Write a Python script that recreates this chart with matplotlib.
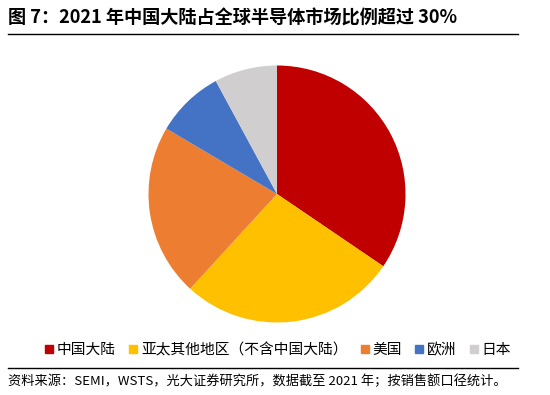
import matplotlib
matplotlib.use("Agg")
import matplotlib.pyplot as plt
from matplotlib.lines import Line2D

plt.rcParams['font.family'] = ['Noto Sans CJK SC', 'DejaVu Sans']

categories = ['中国大陆', '亚太其他地区（不含中国大陆）', '美国', '欧洲', '日本']
values = [34.5, 27.3, 21.7, 8.6, 7.9]
colors = ['#C00000', '#FFC000', '#ED7D31', '#4472C4', '#D0CECE']
title = '图 7：2021 年中国大陆占全球半导体市场比例超过 30%'
source = '资料来源：SEMI，WSTS，光大证券研究所，数据截至 2021 年；按销售额口径统计。'

W, H = 550, 395
fig = plt.figure(figsize=(W / 100, H / 100), dpi=100)

# Pie axes: center (277,194), radius 128 px
cx, cy, r = 277, 194, 128.5
ax = fig.add_axes([(cx - r) / W, (H - cy - r) / H, 2 * r / W, 2 * r / H])
wedges, _ = ax.pie(values, colors=colors, startangle=90, counterclock=False,
                   radius=1.0, wedgeprops=dict(linewidth=0))
ax.set_xlim(-1, 1)
ax.set_ylim(-1, 1)
ax.set_aspect('equal')
ax.axis('off')

# Title
fig.text(8 / W, 1 - 18 / H, title, fontsize=13.1, fontweight='bold',
         ha='left', va='center', color='#000000')
fig.add_artist(Line2D([8 / W, 518 / W], [1 - 34 / H, 1 - 34 / H],
                      color='black', linewidth=1.0))

# Legend
handles = [Line2D([], [], marker='s', linestyle='none', markersize=5.8,
                  markerfacecolor=c, markeredgecolor=c) for c in colors]
fig.legend(handles, categories, loc='center', bbox_to_anchor=(278 / W, 1 - 350 / H),
           ncol=5, frameon=False, prop=dict(size=10.6),
           handlelength=0.55, handletextpad=0.27, columnspacing=0.88,
           borderaxespad=0, borderpad=0)

fig.add_artist(Line2D([8 / W, 518 / W], [1 - 368 / H, 1 - 368 / H],
                      color='black', linewidth=1.0))

# Source
fig.text(8 / W, 1 - 381 / H, source, fontsize=9.5, ha='left', va='center',
         color='#000000')

fig.savefig('out.png', dpi=100)
